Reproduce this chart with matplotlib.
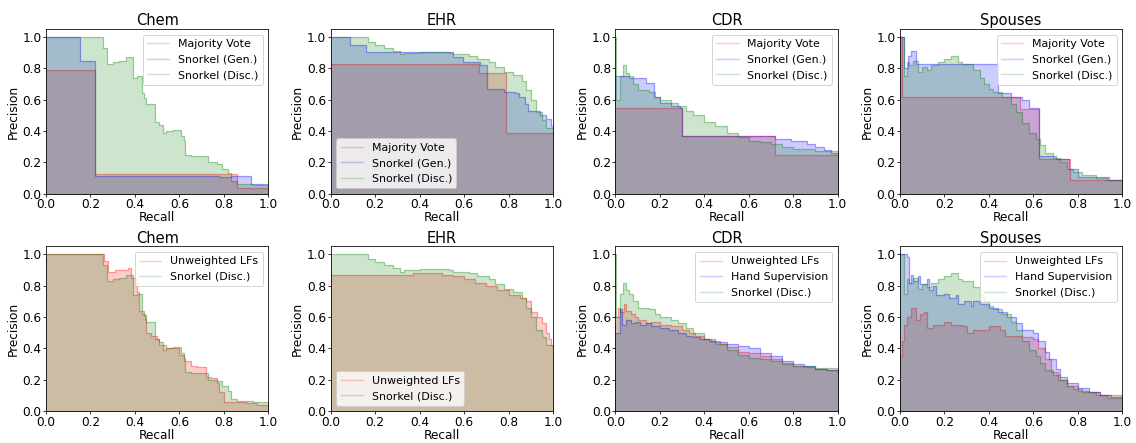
import numpy as np
import matplotlib
matplotlib.use("Agg")
import matplotlib.pyplot as plt

plt.rcParams['font.size'] = 12.3
plt.rcParams['axes.titlesize'] = 14.8
plt.rcParams['legend.fontsize'] = 11.2
plt.rcParams['xtick.major.size'] = 3
plt.rcParams['ytick.major.size'] = 3
plt.rcParams['xtick.major.pad'] = 1.5
plt.rcParams['ytick.major.pad'] = 1.5

# recall breakpoints (ascending) and precision held until the next breakpoint

# --- Chem ---
chem_mv_r = [0.0, 0.22, 0.86, 1.0]
chem_mv_p = [0.79, 0.125, 0.04, 0.04]
chem_gen_r = [0.0, 0.155, 0.22, 0.78, 0.83, 0.92, 1.0]
chem_gen_p = [1.0, 0.85, 0.115, 0.105, 0.115, 0.06, 0.06]
chem_disc_r = [0.0, 0.255, 0.275, 0.30, 0.33, 0.36, 0.39, 0.41, 0.43, 0.44, 0.45,
               0.49, 0.51, 0.525, 0.54, 0.57, 0.607, 0.62, 0.625, 0.65, 0.727,
               0.77, 0.79, 0.82, 0.83, 0.86, 0.93, 1.0]
chem_disc_p = [1.0, 0.93, 0.83, 0.84, 0.85, 0.87, 0.74, 0.75, 0.64, 0.61, 0.57,
               0.46, 0.44, 0.39, 0.40, 0.41, 0.37, 0.34, 0.25, 0.24, 0.20,
               0.19, 0.16, 0.13, 0.08, 0.065, 0.055, 0.05]
chem_unw_r = [0.0, 0.26, 0.28, 0.31, 0.37, 0.38, 0.41, 0.42, 0.43, 0.445, 0.45,
              0.47, 0.50, 0.51, 0.54, 0.60, 0.62, 0.65, 0.68, 0.72, 0.74, 0.77,
              0.78, 0.80, 0.82, 0.90, 0.95, 1.0]
chem_unw_p = [1.0, 0.96, 0.89, 0.90, 0.91, 0.85, 0.76, 0.64, 0.62, 0.59, 0.50,
              0.48, 0.46, 0.42, 0.40, 0.36, 0.32, 0.29, 0.28, 0.22, 0.21, 0.18,
              0.12, 0.06, 0.058, 0.05, 0.04, 0.04]

# --- EHR ---
ehr_mv_r = [0.0, 0.667, 0.787, 1.0]
ehr_mv_p = [0.83, 0.77, 0.39, 0.39]
ehr_gen_r = [0.0, 0.087, 0.157, 0.55, 0.594, 0.67, 0.705, 0.78, 0.83, 0.845,
             0.876, 0.888, 0.94, 0.97, 0.99, 1.0]
ehr_gen_p = [1.0, 0.95, 0.905, 0.87, 0.84, 0.82, 0.67, 0.65, 0.64, 0.62,
             0.57, 0.53, 0.50, 0.48, 0.43, 0.43]
ehr_disc_r = [0.0, 0.17, 0.20, 0.24, 0.28, 0.31, 0.33, 0.40, 0.53, 0.55, 0.62,
              0.66, 0.71, 0.74, 0.78, 0.82, 0.86, 0.88, 0.90, 0.925, 0.95,
              0.97, 1.0]
ehr_disc_p = [1.0, 0.97, 0.95, 0.93, 0.91, 0.89, 0.90, 0.905, 0.90, 0.89, 0.88,
              0.86, 0.84, 0.81, 0.78, 0.76, 0.72, 0.66, 0.60, 0.52, 0.47,
              0.42, 0.42]
ehr_unw_r = [0.0, 0.25, 0.37, 0.50, 0.55, 0.60, 0.65, 0.70, 0.75, 0.80, 0.85,
             0.88, 0.90, 0.93, 0.95, 0.97, 0.98, 0.99, 1.0]
ehr_unw_p = [0.87, 0.865, 0.88, 0.87, 0.86, 0.84, 0.82, 0.80, 0.77, 0.74, 0.72,
             0.70, 0.63, 0.60, 0.56, 0.50, 0.46, 0.42, 0.40]

# --- CDR ---
cdr_mv_r = [0.0, 0.30, 0.717, 1.0]
cdr_mv_p = [0.55, 0.37, 0.246, 0.246]
cdr_gen_r = [0.0, 0.06, 0.14, 0.175, 0.20, 0.25, 0.29, 0.30, 0.51, 0.72, 0.79,
             0.86, 0.90, 0.94, 0.97, 1.0]
cdr_gen_p = [0.75, 0.74, 0.71, 0.62, 0.58, 0.56, 0.55, 0.37, 0.37, 0.35, 0.34,
             0.32, 0.30, 0.28, 0.26, 0.26]
cdr_disc_r = [0.0, 0.005, 0.02, 0.035, 0.05, 0.06, 0.08, 0.10, 0.15, 0.18, 0.20,
              0.25, 0.28, 0.32, 0.35, 0.40, 0.45, 0.50, 0.55, 0.60, 0.65, 0.70,
              0.75, 0.80, 0.90, 1.0]
cdr_disc_p = [1.0, 0.60, 0.75, 0.82, 0.77, 0.75, 0.70, 0.66, 0.65, 0.62, 0.60,
              0.58, 0.56, 0.53, 0.50, 0.46, 0.43, 0.39, 0.36, 0.34, 0.33, 0.32,
              0.30, 0.285, 0.275, 0.25]
cdr_unw_r = [0.0, 0.01, 0.02, 0.04, 0.05, 0.07, 0.09, 0.10, 0.14, 0.16, 0.20,
             0.25, 0.30, 0.33, 0.36, 0.40, 0.43, 0.47, 0.50, 0.55, 0.60, 0.65,
             0.70, 0.75, 0.80, 0.85, 0.90, 0.95, 1.0]
cdr_unw_p = [0.60, 0.66, 0.63, 0.68, 0.64, 0.62, 0.60, 0.58, 0.56, 0.57, 0.55,
             0.54, 0.52, 0.50, 0.48, 0.46, 0.45, 0.43, 0.41, 0.38, 0.37, 0.35,
             0.33, 0.31, 0.29, 0.28, 0.27, 0.26, 0.25]
cdr_hand_r = [0.0, 0.02, 0.03, 0.05, 0.07, 0.09, 0.11, 0.14, 0.16, 0.20, 0.24,
              0.28, 0.32, 0.35, 0.38, 0.42, 0.45, 0.50, 0.55, 0.60, 0.65, 0.70,
              0.75, 0.80, 0.85, 0.90, 0.95, 1.0]
cdr_hand_p = [0.50, 0.65, 0.55, 0.58, 0.56, 0.57, 0.55, 0.56, 0.54, 0.53, 0.52,
              0.50, 0.48, 0.47, 0.46, 0.45, 0.44, 0.43, 0.415, 0.40, 0.37, 0.35,
              0.32, 0.30, 0.285, 0.27, 0.26, 0.25]

# --- Spouses ---
sp_mv_r = [0.0, 0.01, 0.54, 0.626, 0.765, 1.0]
sp_mv_p = [1.0, 0.615, 0.54, 0.22, 0.085, 0.085]
sp_gen_r = [0.0, 0.02, 0.035, 0.05, 0.07, 0.44, 0.50, 0.55, 0.58, 0.626, 0.70,
            0.76, 0.80, 0.94, 1.0]
sp_gen_p = [1.0, 0.80, 0.88, 0.91, 0.83, 0.645, 0.62, 0.60, 0.55, 0.24, 0.22,
            0.16, 0.11, 0.09, 0.09]
sp_disc_r = [0.0, 0.02, 0.03, 0.04, 0.06, 0.08, 0.10, 0.12, 0.14, 0.17, 0.20,
             0.23, 0.26, 0.28, 0.33, 0.36, 0.38, 0.40, 0.42, 0.46, 0.50, 0.52,
             0.55, 0.58, 0.61, 0.63, 0.65, 0.69, 0.72, 0.75, 0.78, 0.82, 0.88,
             0.93, 1.0]
sp_disc_p = [1.0, 0.75, 0.84, 0.82, 0.85, 0.78, 0.81, 0.79, 0.82, 0.84, 0.86,
             0.88, 0.84, 0.83, 0.79, 0.74, 0.70, 0.67, 0.65, 0.62, 0.57, 0.52,
             0.45, 0.39, 0.35, 0.31, 0.26, 0.23, 0.20, 0.16, 0.14, 0.12, 0.10,
             0.085, 0.085]
sp_unw_r = [0.0, 0.01, 0.02, 0.03, 0.05, 0.07, 0.09, 0.11, 0.12, 0.15, 0.20,
            0.23, 0.28, 0.30, 0.33, 0.40, 0.45, 0.47, 0.55, 0.60, 0.62, 0.65,
            0.68, 0.71, 0.75, 0.80, 0.85, 0.90, 1.0]
sp_unw_p = [0.35, 0.45, 0.55, 0.60, 0.66, 0.58, 0.62, 0.63, 0.53, 0.55, 0.57,
            0.55, 0.54, 0.50, 0.52, 0.54, 0.52, 0.48, 0.47, 0.46, 0.40, 0.33,
            0.25, 0.20, 0.16, 0.13, 0.12, 0.10, 0.085]
sp_hand_r = [0.0, 0.03, 0.04, 0.05, 0.06, 0.08, 0.09, 0.12, 0.13, 0.15, 0.16,
             0.20, 0.22, 0.25, 0.26, 0.29, 0.32, 0.33, 0.36, 0.40, 0.44, 0.48,
             0.52, 0.55, 0.60, 0.62, 0.65, 0.67, 0.70, 0.72, 0.75, 0.80, 0.85,
             0.90, 0.95, 1.0]
sp_hand_p = [1.0, 0.98, 0.82, 0.87, 0.83, 0.86, 0.81, 0.84, 0.77, 0.80, 0.74,
             0.75, 0.72, 0.74, 0.68, 0.70, 0.67, 0.70, 0.68, 0.66, 0.63, 0.60,
             0.56, 0.52, 0.50, 0.45, 0.38, 0.33, 0.27, 0.22, 0.18, 0.15, 0.12,
             0.10, 0.09, 0.09]

titles = ["Chem", "EHR", "CDR", "Spouses"]

top_rows = [
    [(chem_mv_r, chem_mv_p, 'r', 'Majority Vote'),
     (chem_gen_r, chem_gen_p, 'b', 'Snorkel (Gen.)'),
     (chem_disc_r, chem_disc_p, 'g', 'Snorkel (Disc.)')],
    [(ehr_mv_r, ehr_mv_p, 'r', 'Majority Vote'),
     (ehr_gen_r, ehr_gen_p, 'b', 'Snorkel (Gen.)'),
     (ehr_disc_r, ehr_disc_p, 'g', 'Snorkel (Disc.)')],
    [(cdr_mv_r, cdr_mv_p, 'r', 'Majority Vote'),
     (cdr_gen_r, cdr_gen_p, 'b', 'Snorkel (Gen.)'),
     (cdr_disc_r, cdr_disc_p, 'g', 'Snorkel (Disc.)')],
    [(sp_mv_r, sp_mv_p, 'r', 'Majority Vote'),
     (sp_gen_r, sp_gen_p, 'b', 'Snorkel (Gen.)'),
     (sp_disc_r, sp_disc_p, 'g', 'Snorkel (Disc.)')],
]
bottom_rows = [
    [(chem_unw_r, chem_unw_p, 'r', 'Unweighted LFs'),
     (chem_disc_r, chem_disc_p, 'g', 'Snorkel (Disc.)')],
    [(ehr_unw_r, ehr_unw_p, 'r', 'Unweighted LFs'),
     (ehr_disc_r, ehr_disc_p, 'g', 'Snorkel (Disc.)')],
    [(cdr_unw_r, cdr_unw_p, 'r', 'Unweighted LFs'),
     (cdr_hand_r, cdr_hand_p, 'b', 'Hand Supervision'),
     (cdr_disc_r, cdr_disc_p, 'g', 'Snorkel (Disc.)')],
    [(sp_unw_r, sp_unw_p, 'r', 'Unweighted LFs'),
     (sp_hand_r, sp_hand_p, 'b', 'Hand Supervision'),
     (sp_disc_r, sp_disc_p, 'g', 'Snorkel (Disc.)')],
]
legend_locs = ['upper right', 'lower left', 'upper right', 'upper right']


def pr_panel(ax, curves, title, loc):
    for r, p, c, lab in curves:
        ax.step(r, p, color=c, alpha=0.2, where='post', label=lab)
        ax.fill_between(r, p, step='post', alpha=0.2, color=c)
    ax.set_xlim([0.0, 1.0])
    ax.set_ylim([0.0, 1.05])
    ax.set_xlabel('Recall', labelpad=0)
    ax.set_ylabel('Precision', labelpad=3)
    ax.set_title(title, pad=4)
    ax.legend(loc=loc)


fig, axes = plt.subplots(2, 4, figsize=(16, 6.24), dpi=71)
plt.subplots_adjust(left=0.0405, right=0.988, top=0.934, bottom=0.072,
                    wspace=0.28, hspace=0.32)
for i in range(4):
    pr_panel(axes[0, i], top_rows[i], titles[i], legend_locs[i])
    pr_panel(axes[1, i], bottom_rows[i], titles[i], legend_locs[i])

plt.savefig('out.png', dpi=71)
